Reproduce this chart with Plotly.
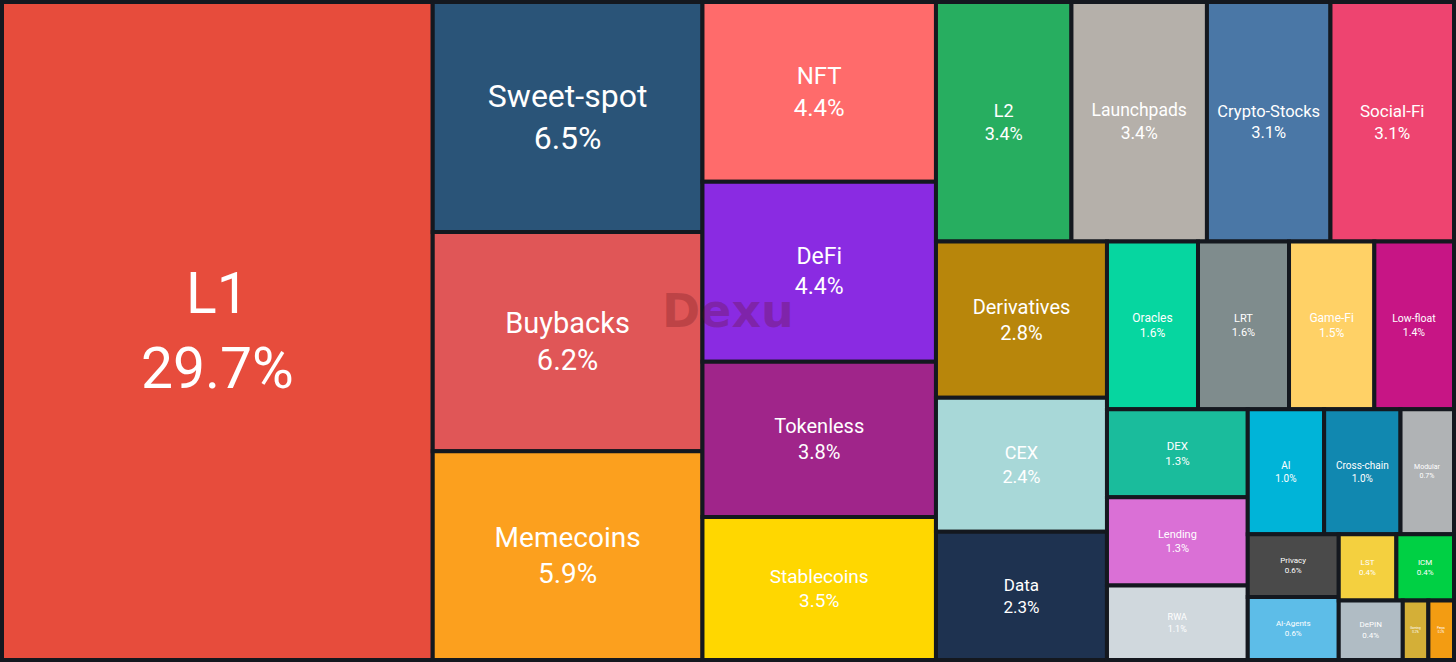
import plotly.graph_objects as go

sectors = ["L1", "Sweet-spot", "Buybacks", "Memecoins", "NFT", "DeFi", "Tokenless",
           "Stablecoins", "L2", "Launchpads", "Crypto-Stocks", "Social-Fi", "Derivatives",
           "CEX", "Data", "Oracles", "LRT", "Game-Fi", "Low-float", "DEX", "Lending",
           "RWA", "AI", "Cross-chain", "Modular", "Privacy", "AI-Agents", "LST", "ICM",
           "DePIN", "Gaming", "Perps"]
shares = [29.7, 6.5, 6.2, 5.9, 4.4, 4.4, 3.8, 3.5, 3.4, 3.4, 3.1, 3.1, 2.8, 2.4, 2.3,
          1.6, 1.6, 1.5, 1.4, 1.3, 1.3, 1.1, 1.0, 1.0, 0.7, 0.6, 0.6, 0.4, 0.4, 0.4,
          0.16, 0.16]

colors = ["#e74c3c", "#2a5478", "#e05657", "#fca01e", "#ff6b6b", "#8a2be2", "#a0258a",
          "#ffd700", "#27ae60", "#b5b0aa", "#4a77a6", "#ee4470", "#b8860b", "#a8d8d8",
          "#1e3250", "#06d6a0", "#7f8c8d", "#ffd166", "#c71585", "#1abc9c", "#da70d6",
          "#d0d8dd", "#00b4d8", "#1188b0", "#b0b3b5", "#4a4a4a", "#5dbde8", "#f4d03f",
          "#00d044", "#b0bcc4", "#d4af37", "#f39c12"]
font_sizes = [57, 32, 29, 28, 24, 23, 20, 19, 18, 17.5, 16.5, 17, 20, 18, 17,
              12, 11, 12, 10.5, 11.5, 11, 9, 10, 10, 7, 8, 8, 8, 8, 8, 3, 3]

BG = "#14181f"
root = "all"
pct_text = [f"{v:.1f}%" for v in shares]

ids = [root] + sectors
labels = [""] + sectors
parents = [""] + [root] * len(sectors)
values = [0] + shares
custom = [""] + pct_text
templates = [""] + ["%{label}<br>%{customdata}"] * len(sectors)

fig = go.Figure(go.Treemap(
    ids=ids,
    labels=labels,
    parents=parents,
    values=values,
    branchvalues="remainder",
    customdata=custom,
    texttemplate=templates,
    textposition="middle center",
    textfont=dict(family="Roboto, sans-serif", color="white", size=[10] + font_sizes),
    marker=dict(colors=[BG] + colors, line=dict(color=BG, width=4),
                pad=dict(t=2, l=2, r=2, b=2)),
    tiling=dict(packing="squarify", squarifyratio=1.618034, pad=0),
    pathbar=dict(visible=False),
    sort=True,
    hoverinfo="none",
))

fig.add_annotation(
    text="<b>Dexu</b>", x=0.5, y=0.53, xref="paper", yref="paper",
    showarrow=False, font=dict(family="DejaVu Sans", size=46, color="rgba(100,20,30,0.28)"),
)

fig.update_layout(
    width=1456, height=662,
    margin=dict(l=0, r=0, t=0, b=0),
    paper_bgcolor=BG,
    plot_bgcolor=BG,
    hovermode=False,
)

fig.write_html("out.html", config={"displayModeBar": False},
               post_script="document.body.style.margin='0';")
